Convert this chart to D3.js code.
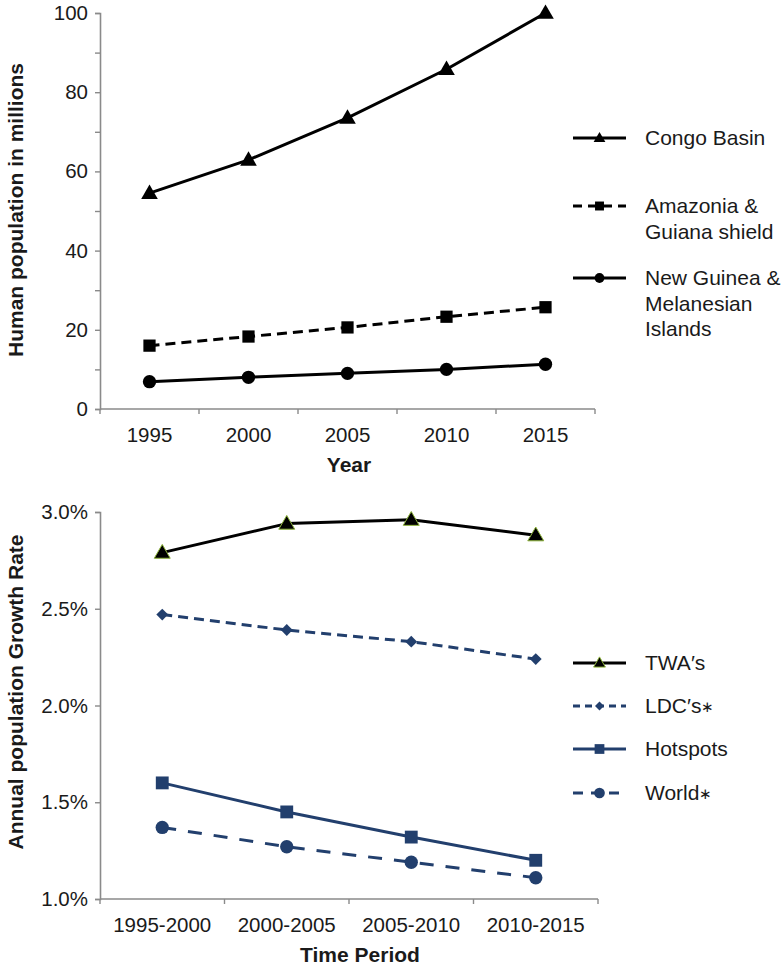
<!DOCTYPE html>
<html>
<head>
<meta charset="utf-8">
<script src="https://cdn.jsdelivr.net/npm/d3@7"></script>
<style>
  html, body { margin: 0; padding: 0; background: #fff; }
  svg { display: block; font-family: "Liberation Sans", Arial, Helvetica, sans-serif; }
</style>
</head>
<body>
<svg id="chart" width="783" height="969"></svg>
<script>
// ---- Panel 1: human population (millions) by year ----
const years = ["1995", "2000", "2005", "2010", "2015"];
const congoBasin = [54.5, 62.9, 73.5, 85.8, 100];
const amazonia = [16.0, 18.3, 20.6, 23.3, 25.7];
const newGuinea = [6.9, 8.0, 9.0, 10.0, 11.3];
const popTicks = [0, 20, 40, 60, 80, 100];

// ---- Panel 2: annual population growth rate (%) by period ----
const periods = ["1995-2000", "2000-2005", "2005-2010", "2010-2015"];
const twas = [2.79, 2.94, 2.96, 2.88];
const ldcs = [2.47, 2.39, 2.33, 2.24];
const hotspots = [1.60, 1.45, 1.32, 1.20];
const world = [1.37, 1.27, 1.19, 1.11];
const rateTicks = [1.0, 1.5, 2.0, 2.5, 3.0];

const NAVY = "#223f6d";
const AXIS = "#8a8a8a";
const TEXT = "#1a1a1a";

const svg = d3.select("#chart");

// marker shapes; "diamond" is a square turned 45 degrees
function marker(sel, s, size) {
  const type = s.symbol === "diamond" ? d3.symbolSquare : s.symbol;
  sel.attr("d", d3.symbol().type(type).size(size)());
}

function drawPanel(cfg) {
  const g = svg.append("g");
  const x = d3.scaleBand().domain(cfg.cats).range([cfg.left, cfg.right]).paddingInner(0).paddingOuter(0);
  const y = d3.scaleLinear().domain(cfg.yDomain).range([cfg.bottom, cfg.top]);

  // y axis
  const yAxis = d3.axisLeft(y).tickValues(cfg.yMinor).tickSize(5)
    .tickFormat(d => cfg.yLabels.includes(d) ? cfg.yFmt(d) : "");
  const ya = g.append("g").attr("transform", `translate(${cfg.left},0)`).call(yAxis);
  ya.select(".domain").attr("stroke", AXIS).attr("stroke-width", 1.6);
  ya.selectAll(".tick line").attr("stroke", AXIS).attr("stroke-width", 1.4);
  ya.selectAll(".tick text").attr("fill", TEXT).attr("font-size", 20.5).attr("x", -12)
    .style("font-family", "'Liberation Sans', Arial, sans-serif");

  // x axis: labels at band centres, tick marks at band edges
  const xa = g.append("g").attr("transform", `translate(0,${cfg.bottom})`);
  xa.append("line").attr("x1", cfg.left).attr("x2", cfg.right).attr("stroke", AXIS).attr("stroke-width", 1.6);
  const edges = cfg.cats.map(c => x(c)).concat([x(cfg.cats[cfg.cats.length - 1]) + x.bandwidth()]);
  xa.selectAll("line.edge").data(edges).join("line").attr("class", "edge")
    .attr("x1", d => d).attr("x2", d => d).attr("y1", 0).attr("y2", 5)
    .attr("stroke", AXIS).attr("stroke-width", 1.4);
  xa.selectAll("text.cat").data(cfg.cats).join("text").attr("class", "cat")
    .attr("x", d => x(d) + x.bandwidth() / 2).attr("y", cfg.xLabelDy)
    .attr("text-anchor", "middle").attr("font-size", 20.5).attr("fill", TEXT).text(d => d);

  // axis titles
  g.append("text").attr("x", cfg.xTitleX).attr("y", cfg.xTitleY)
    .attr("text-anchor", "middle").attr("font-size", 21).attr("font-weight", "bold").attr("fill", TEXT)
    .text(cfg.xTitle);
  g.append("text").attr("transform", `translate(${cfg.yTitleX},${cfg.yTitleCY}) rotate(-90)`)
    .attr("text-anchor", "middle").attr("font-size", 21).attr("font-weight", "bold").attr("fill", TEXT)
    .text(cfg.yTitle);

  const line = d3.line().x((d, i) => x(cfg.cats[i]) + x.bandwidth() / 2).y(d => y(d));
  const rot = s => s.symbol === "diamond" ? " rotate(45)" : "";

  cfg.series.forEach(s => {
    g.append("path").datum(s.values).attr("d", line).attr("fill", "none")
      .attr("stroke", s.color).attr("stroke-width", s.width)
      .attr("stroke-dasharray", s.dash || null).attr("stroke-linejoin", "round");
    g.selectAll(null).data(s.values).join("path")
      .attr("transform", (d, i) => `translate(${x(cfg.cats[i]) + x.bandwidth() / 2},${y(d) + (s.dy || 0)})${rot(s)}`)
      .call(marker, s, s.size)
      .attr("fill", s.fill).attr("stroke", s.stroke || "none").attr("stroke-width", s.strokeW || 0);
  });

  // legend
  cfg.series.forEach((s, k) => {
    const ly = cfg.legendY[k];
    const lg = g.append("g");
    lg.append("line").attr("x1", 573).attr("x2", 626).attr("y1", ly).attr("y2", ly)
      .attr("stroke", s.color).attr("stroke-width", s.width).attr("stroke-dasharray", s.legendDash || null);
    lg.append("path").attr("transform", `translate(599.5,${ly + (s.dy || 0) * 0.7})${rot(s)}`)
      .call(marker, s, s.legendSize)
      .attr("fill", s.fill).attr("stroke", s.stroke || "none").attr("stroke-width", s.strokeW || 0);
    const t = lg.append("text").attr("x", 645).attr("y", ly).attr("font-size", 21).attr("fill", TEXT);
    s.label.forEach((ln, j) => {
      const sp = t.append("tspan").attr("x", 645).attr("dy", j === 0 ? "0.35em" : 25.5).text(ln);
    });
    if (s.star) {
      t.append("tspan").attr("font-size", 15).attr("dy", -1).text("\u2217");
    }
  });
}

drawPanel({
  cats: years, left: 100, right: 595, top: 13, bottom: 409,
  yDomain: [0, 100], yMinor: d3.range(0, 101, 10), yLabels: popTicks, yFmt: d => d,
  xLabelDy: 33, xTitleX: 349, xTitleY: 472, xTitle: "Year",
  yTitleX: 23, yTitleCY: 210, yTitle: "Human population in millions",
  legendY: [138, 206, 278],
  series: [
    { label: ["Congo Basin"], values: congoBasin, color: "#000", width: 3, symbol: d3.symbolTriangle, size: 120, legendSize: 60, fill: "#000", dy: 1 },
    { label: ["Amazonia &", "Guiana shield"], values: amazonia, color: "#000", width: 3, dash: "10,6", legendDash: "9,6", symbol: d3.symbolSquare, size: 150, legendSize: 80, fill: "#000" },
    { label: ["New Guinea &", "Melanesian", "Islands"], values: newGuinea, color: "#000", width: 3, symbol: d3.symbolCircle, size: 140, legendSize: 75, fill: "#000" }
  ]
});

drawPanel({
  cats: periods, left: 100, right: 598, top: 512, bottom: 899,
  yDomain: [1.0, 3.0], yMinor: rateTicks, yLabels: rateTicks, yFmt: d => d.toFixed(1) + "%",
  xLabelDy: 33, xTitleX: 360, xTitleY: 962, xTitle: "Time Period",
  yTitleX: 23, yTitleCY: 692, yTitle: "Annual population Growth Rate",
  legendY: [663, 706, 749, 793],
  series: [
    { label: ["TWA\u2032s"], values: twas, color: "#000", width: 3, symbol: d3.symbolTriangle, size: 110, legendSize: 60, fill: "#000", stroke: "#8db33a", strokeW: 1, dy: 1 },
    { label: ["LDC\u2032s"], star: true, values: ldcs, color: NAVY, width: 3, dash: "10,6", legendDash: "7,5", symbol: "diamond", size: 70, legendSize: 40, fill: NAVY },
    { label: ["Hotspots"], values: hotspots, color: NAVY, width: 3, symbol: d3.symbolSquare, size: 165, legendSize: 95, fill: NAVY },
    { label: ["World"], star: true, values: world, color: NAVY, width: 3, dash: "14,12", legendDash: "10,8", symbol: d3.symbolCircle, size: 140, legendSize: 90, fill: NAVY }
  ]
});
</script>
</body>
</html>
